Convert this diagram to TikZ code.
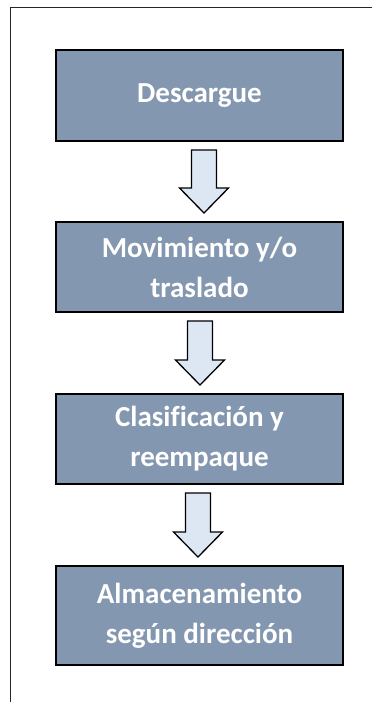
\documentclass[tikz,border=0pt]{standalone}
\usepackage{fontspec}
\setmainfont{Carlito}[Ligatures=NoCommon]
\usetikzlibrary{calc, positioning}
\definecolor{boxfill}{RGB}{132,151,176}
\definecolor{arrowfill}{RGB}{221,231,243}
\newcommand{\blockarrow}[3]{%
  \draw[barrow] ($(#1.south)+(#3-12.5,8)$) -- ++(25,0) |- ($(#2.north)+(#3+24.5,-33)$)
    -- ($(#2.north)+(#3,-8)$) -- ++(-24.5,-25) -- ++(12,0) -- cycle;}

\begin{document}
\begin{tikzpicture}[x=1pt, y=-1pt,
  stepbox/.style={draw=black, line width=2pt, fill=boxfill, text=white,
    font=\fontsize{29}{40}\selectfont\bfseries, align=center,
    minimum width=287pt, inner sep=0pt},
  barrow/.style={draw=black, line width=1.3pt, fill=arrowfill, line join=miter}]
  \useasboundingbox (0,0) rectangle (372,702);
  \draw[black!85, line width=1.3pt] (372,7.5) -- (10.5,7.5) -- (10.5,702);

  % Process steps
  \node[stepbox, minimum height=91pt] (descargue) at (199.5,95.5) {Descargue};
  \node[stepbox, minimum height=90pt] (movimiento) at (199.5,267) {Movimiento y/o\\traslado};
  \node[stepbox, minimum height=90pt] (clasificacion) at (199.5,439) {Clasificaci\'on y\\reempaque};
  \node[stepbox, minimum height=99pt] (almacen) at (199.5,615.5) {Almacenamiento\\seg\'un direcci\'on};

  % Block arrows between steps
  \blockarrow{descargue}{movimiento}{4.5}
  \blockarrow{movimiento}{clasificacion}{0.5}
  \blockarrow{clasificacion}{almacen}{-1.5}
\end{tikzpicture}
\end{document}
